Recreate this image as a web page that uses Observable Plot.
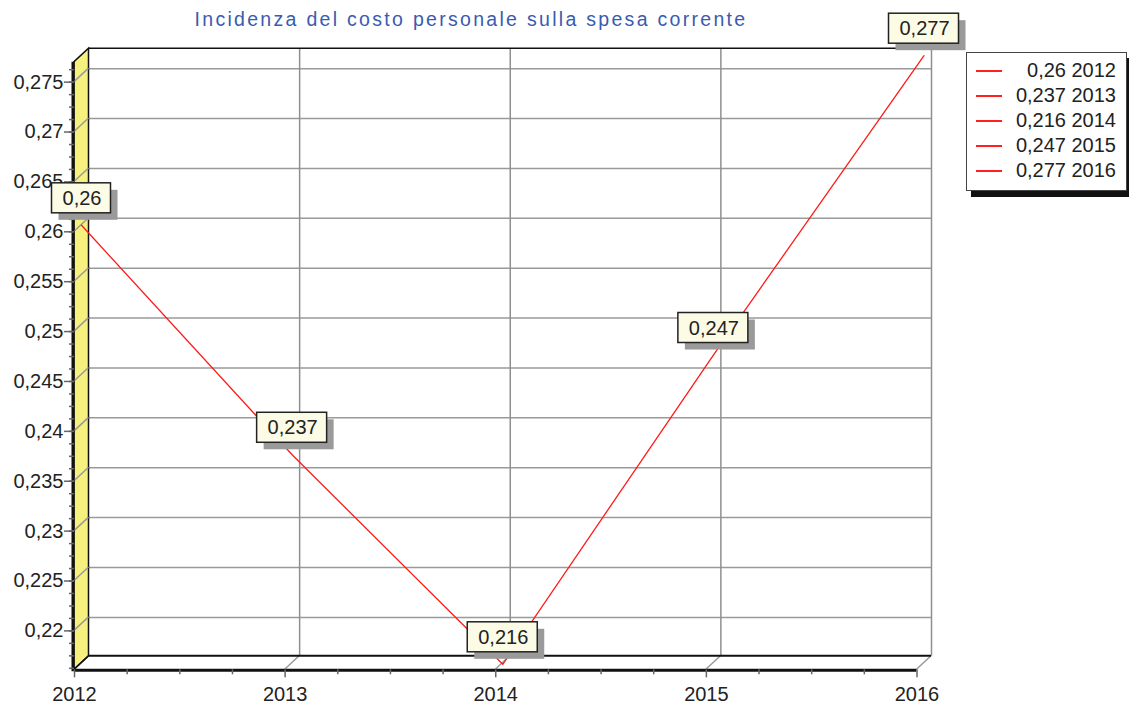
<!DOCTYPE html>
<html><head><meta charset="utf-8">
<script src="https://cdn.jsdelivr.net/npm/d3@7"></script>
<script src="https://cdn.jsdelivr.net/npm/@observablehq/plot@0.6"></script>
<style>
body{margin:0;background:#fff;font-family:"Liberation Sans",Arial,sans-serif;}
#wrap{position:relative;width:1129px;height:705px;overflow:hidden;background:#fff;}
#chart{position:absolute;left:0;top:0;}
#title{position:absolute;left:2px;width:938px;top:10px;line-height:19px;text-align:center;font-size:19.5px;letter-spacing:2.3px;color:#3a5bb0;white-space:nowrap;}
#legend{position:absolute;left:966px;top:52px;width:159px;height:137px;border:1px solid #444;background:#fff;box-shadow:5px 6px 0 #111;}
.row{position:absolute;left:0;width:149px;height:25px;line-height:25px;font-size:20px;color:#222;text-align:right;}
.sw{position:absolute;left:9px;top:12px;width:26px;height:2px;background:#ff2020;}
</style></head>
<body>
<div id="wrap">
  <div id="chart"></div>
  <div id="title">Incidenza del costo personale sulla spesa corrente</div>
  <div id="legend"></div>
</div>
<script>
// ---- data ----
const years = [2012, 2013, 2014, 2015, 2016];
const values = [0.26, 0.237, 0.216, 0.247, 0.277];
const yTickValues = [0.22, 0.225, 0.23, 0.235, 0.24, 0.245, 0.25, 0.255, 0.26, 0.265, 0.27, 0.275];
const xTickValues = [2012, 2013, 2014, 2015, 2016];
const yDomain = [0.2161, 0.277];
const xDomain = [2012, 2016];

// ---- helpers ----
const fmt = d => String(+(+d).toFixed(4)).replace(".", ",");
const data = years.map((year, i) => ({year, value: values[i], label: fmt(values[i])}));
const minorY = d3.range(0.21625, 0.2772, 0.00125);
const minorX = d3.range(2012, 2016.001, 0.25).filter(d => Math.abs(d - Math.round(d)) > 1e-6);

const DX = 14.5, DY = -13.5;   // back-plane offset (3D depth)
const MX = 7, MY = -6.5;       // series depth
const FONT = "20px 'Liberation Sans', Arial, sans-serif";
const ctx = document.createElement("canvas").getContext("2d");
ctx.font = FONT;

function line(g, x1, y1, x2, y2, stroke, w) {
  g.append("line").attr("x1", x1).attr("y1", y1).attr("x2", x2).attr("y2", y2)
    .attr("stroke", stroke).attr("stroke-width", w);
}

// walls / floor / edges
function walls(index, scales) {
  const {x, y} = scales;
  const g = d3.create("svg:g");
  const x0 = x(xDomain[0]), x1 = x(xDomain[1]), yb = y(yDomain[0]), yt = y(yDomain[1]);
  g.append("path")
    .attr("d", `M${x0},${yb}L${x0},${yt}L${x0+DX},${yt+DY}L${x0+DX},${yb+DY}Z`)
    .attr("fill", "#f6f07e").attr("stroke", "#111").attr("stroke-width", 1.5);
  for (const t of yTickValues) line(g, x0, y(t), x0 + DX, y(t) + DY, "#9a9a9a", 1.5);
  for (const t of xTickValues.slice(1)) line(g, x(t), yb, x(t) + DX, yb + DY, "#9a9a9a", 1.5);
  line(g, x0 + DX, yt + DY, x1 + DX, yt + DY, "#111", 1.5);
  line(g, x0 + DX, yb + DY, x1 + DX, yb + DY, "#111", 2);
  line(g, x0, yb, x0 + DX, yb + DY, "#111", 1.5);
  line(g, x0, yb + 1, x1, yb + 1, "#111", 3);
  line(g, x0 - 1, yb + 2, x0 - 1, yt, "#111", 3);
  return g.node();
}

// value labels with box + shadow
function valueLabels(index, scales) {
  const {x, y} = scales;
  const g = d3.create("svg:g");
  for (const d of data) {
    const px = x(d.year) + MX, py = y(d.value) + MY;
    const w = Math.round(ctx.measureText(d.label).width + 20), h = 30;
    const left = px - w / 2, top = py - 12 - h;
    g.append("rect").attr("x", left + 7).attr("y", top + 7).attr("width", w).attr("height", h).attr("fill", "#9a9a9a");
    g.append("rect").attr("x", left).attr("y", top).attr("width", w).attr("height", h)
      .attr("fill", "#fbfbe6").attr("stroke", "#222").attr("stroke-width", 1.5);
    g.append("text").attr("x", px + 1).attr("y", top + 22).attr("text-anchor", "middle")
      .attr("fill", "#222").style("font", FONT).text(d.label);
  }
  return g.node();
}

const chart = Plot.plot({
  width: 1129,
  height: 705,
  marginLeft: 74,
  marginRight: 212.5,
  marginTop: 61.7,
  marginBottom: 35.7,
  style: {fontFamily: "'Liberation Sans', Arial, sans-serif", fontSize: "20px", background: "transparent", overflow: "visible"},
  x: {domain: xDomain, label: null},
  y: {domain: yDomain, label: null},
  marks: [
    Plot.ruleY(yTickValues, {x1: xDomain[0], x2: xDomain[1], dx: DX, dy: DY, stroke: "#9a9a9a", strokeWidth: 1.5}),
    Plot.ruleX(xTickValues.slice(1), {y1: yDomain[0], y2: yDomain[1], dx: DX, dy: DY, stroke: "#8f8f8f", strokeWidth: 1.5}),
    walls,
    Plot.axisY({ticks: minorY, tickSize: 5, tickFormat: () => "", label: null, stroke: "#666", strokeWidth: 1.5}),
    Plot.axisY({ticks: yTickValues, tickSize: 10, tickPadding: 1, tickFormat: fmt, label: null, stroke: "#666", strokeWidth: 1.5, fill: "#222", fontSize: 20}),
    Plot.axisX({ticks: minorX, tickSize: 5, tickFormat: () => "", label: null, stroke: "#666", strokeWidth: 1.5}),
    Plot.axisX({ticks: xTickValues, tickSize: 8, tickPadding: 9, tickFormat: d => String(d), label: null, stroke: "#666", strokeWidth: 1.5, fill: "#222", fontSize: 20}),
    Plot.line(data, {x: "year", y: "value", stroke: "#ff1a1a", strokeWidth: 1.3, dx: MX, dy: MY}),
    valueLabels
  ]
});
document.getElementById("chart").appendChild(chart);

// legend
const legend = document.getElementById("legend");
data.forEach((d, i) => {
  const row = document.createElement("div");
  row.className = "row";
  row.style.top = (4.5 + 25 * i) + "px";
  const sw = document.createElement("span");
  sw.className = "sw";
  row.appendChild(sw);
  row.appendChild(document.createTextNode(d.label + " " + d.year));
  legend.appendChild(row);
});
</script>
</body></html>
